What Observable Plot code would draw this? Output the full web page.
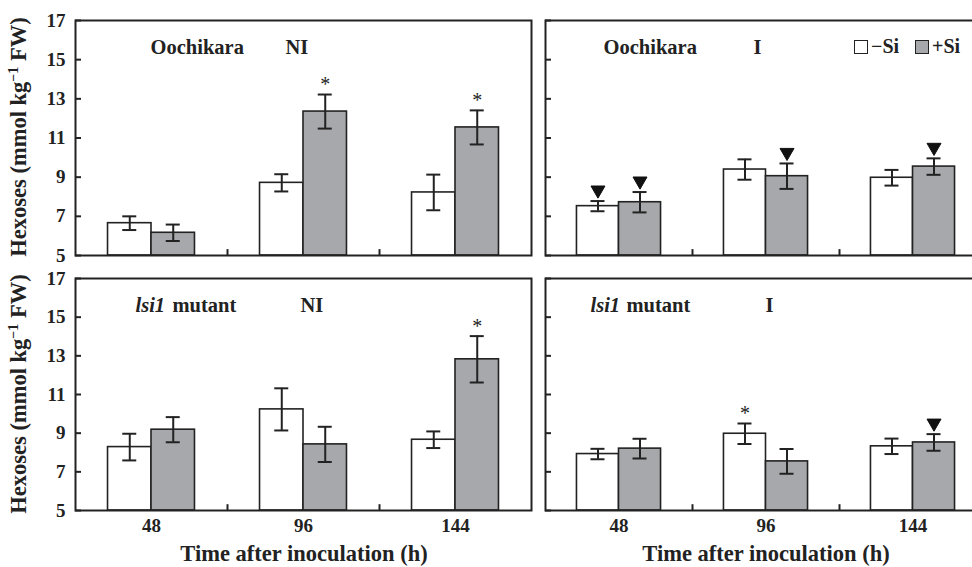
<!DOCTYPE html>
<html>
<head>
<meta charset="utf-8">
<script src="https://cdn.jsdelivr.net/npm/d3@7"></script>
<script src="https://cdn.jsdelivr.net/npm/@observablehq/plot@0.6"></script>
<style>
  body { margin: 0; background: #fff; overflow: hidden; }
  #fig { position: relative; width: 972px; height: 567px; overflow: hidden; font-family: "Liberation Serif", "Times New Roman", "DejaVu Serif", serif; font-weight: bold; color: #222; }
  .panel { position: absolute; }
  .panel svg { max-width: none !important; }
  .ylab { position: absolute; font-size: 22.5px; white-space: nowrap; transform: translate(-50%, -50%) rotate(-90deg); }
  .xlab { position: absolute; font-size: 22.5px; white-space: nowrap; transform: translate(-50%, -50%); }
  .legend { position: absolute; left: 854px; top: 35px; font-size: 20px; display: flex; align-items: center; white-space: nowrap; }
  .sw { display: inline-block; width: 12px; height: 12px; border: 1.6px solid #222; margin-right: 3px; }
  sup { font-size: 14px; }
</style>
</head>
<body>
<div id="fig"></div>
<script>
// ---- data ----
const times = ["48", "96", "144"];
const yTicks = [5, 7, 9, 11, 13, 15, 17];

const oochikaraNI_noSi = [6.65, 8.71, 8.22];
const oochikaraNI_noSi_se = [0.35, 0.44, 0.91];
const oochikaraNI_Si = [6.16, 12.35, 11.54];
const oochikaraNI_Si_se = [0.42, 0.87, 0.87];
const oochikaraNI_noSi_mark = ["", "", ""];
const oochikaraNI_Si_mark = ["", "*", "*"];

const oochikaraI_noSi = [7.52, 9.39, 8.97];
const oochikaraI_noSi_se = [0.26, 0.52, 0.40];
const oochikaraI_Si = [7.72, 9.05, 9.54];
const oochikaraI_Si_se = [0.52, 0.65, 0.42];
const oochikaraI_noSi_mark = ["▼", "", ""];
const oochikaraI_Si_mark = ["▼", "▼", "▼"];

const lsi1NI_noSi = [8.28, 10.23, 8.66];
const lsi1NI_noSi_se = [0.69, 1.09, 0.43];
const lsi1NI_Si = [9.18, 8.42, 12.82];
const lsi1NI_Si_se = [0.65, 0.91, 1.20];
const lsi1NI_noSi_mark = ["", "", ""];
const lsi1NI_Si_mark = ["", "", "*"];

const lsi1I_noSi = [7.92, 8.97, 8.32];
const lsi1I_noSi_se = [0.27, 0.53, 0.40];
const lsi1I_Si = [8.20, 7.54, 8.52];
const lsi1I_Si_se = [0.51, 0.64, 0.43];
const lsi1I_noSi_mark = ["", "*", ""];
const lsi1I_Si_mark = ["", "", "▼"];

const INK = "#222";
const GREY = "#a7a8ab";
const FONT = "'Liberation Serif', 'Times New Roman', 'DejaVu Serif', serif";

function makeRows(noSi, noSiSe, noSiMark, si, siSe, siMark) {
  return times.flatMap((t, i) => [
    {time: t, series: "-Si", mean: noSi[i], se: noSiSe[i], mark: noSiMark[i]},
    {time: t, series: "+Si", mean: si[i], se: siSe[i], mark: siMark[i]}
  ]);
}

function panel(cfg) {
  const {rows, width, height, marginLeft, marginRight, marginTop, marginBottom, yText, xText, labels} = cfg;
  const gw = (width - marginLeft - marginRight) / times.length;
  const barW = gw * 0.286;
  const outer = gw * 0.214;
  const capHalf = 7;
  const white = rows.filter(d => d.series === "-Si");
  const grey = rows.filter(d => d.series === "+Si");
  const cW = outer + barW / 2;
  const cG = gw - outer - barW / 2;
  const marks = [];
  marks.push(Plot.barY(white, {x: "time", y1: 5, y2: "mean", fill: "white", stroke: INK, strokeWidth: 1.6, insetLeft: outer, insetRight: gw / 2}));
  marks.push(Plot.barY(grey, {x: "time", y1: 5, y2: "mean", fill: GREY, stroke: INK, strokeWidth: 1.6, insetLeft: gw / 2, insetRight: outer}));
  for (const [set, c] of [[white, cW], [grey, cG]]) {
    marks.push(Plot.ruleX(set, {x: "time", y1: d => d.mean - d.se, y2: d => d.mean + d.se, dx: c - gw / 2, stroke: INK, strokeWidth: 2}));
    for (const f of [d => d.mean - d.se, d => d.mean + d.se]) {
      marks.push(Plot.tickY(set, {x: "time", y: f, insetLeft: c - capHalf, insetRight: gw - c - capHalf, stroke: INK, strokeWidth: 2}));
    }
    marks.push(Plot.text(set.filter(d => d.mark === "*"), {x: "time", y: d => d.mean + d.se, dx: c - gw / 2, dy: -10, text: () => "*", fontSize: 20, fontWeight: "normal", fill: INK}));
    marks.push(Plot.dot(set.filter(d => d.mark === "▼"), {x: "time", y: d => d.mean + d.se, dx: c - gw / 2, dy: -11, symbol: "triangle", rotate: 180, r: 5.2, fill: "#111", stroke: "#111", strokeWidth: 1}));
  }
  marks.push(Plot.ruleX(times.slice(1), {x: d => d, dx: -gw / 2, y1: 5, y2: 5.3, stroke: INK, strokeWidth: 2}));
  marks.push(Plot.axisY({ticks: yTicks, tickSize: 0, tickPadding: 10, text: yText ? undefined : null, label: null, fontSize: 19, fontWeight: "bold"}));
  marks.push(Plot.axisY({ticks: yTicks, tickSize: -6, text: null, label: null, strokeWidth: 2}));
  if (xText) marks.push(Plot.axisX({tickSize: 0, tickPadding: 8, label: null, fontSize: 19, fontWeight: "bold"}));
  marks.push(Plot.frame({stroke: INK, strokeWidth: 2}));
  for (const l of labels) {
    marks.push(Plot.text([l.text], {frameAnchor: "top-left", dx: l.dx, dy: 27, lineAnchor: "middle", text: d => d, textAnchor: "start", fontSize: 20.5, fontWeight: "bold", fontStyle: l.italic ? "italic" : "normal", fill: INK}));
  }
  return Plot.plot({
    width, height, marginLeft, marginRight, marginTop, marginBottom,
    x: {type: "band", domain: times, padding: 0, axis: null},
    y: {domain: [5, 17], axis: null},
    style: {fontFamily: FONT, fontWeight: "bold", fontSize: "18px", color: INK, background: "transparent", overflow: "visible", maxWidth: "none"},
    marks
  });
}

const fig = document.getElementById("fig");
function place(node, left, top, w) {
  const d = document.createElement("div");
  d.className = "panel";
  d.style.left = left + "px";
  d.style.top = top + "px";
  d.style.width = w + "px";
  d.appendChild(node);
  fig.appendChild(d);
}

place(panel({
  rows: makeRows(oochikaraNI_noSi, oochikaraNI_noSi_se, oochikaraNI_noSi_mark, oochikaraNI_Si, oochikaraNI_Si_se, oochikaraNI_Si_mark),
  width: 538, height: 262, marginLeft: 75, marginRight: 7, marginTop: 20, marginBottom: 7, yText: true, xText: false,
  labels: [{text: "Oochikara", dx: 75}, {text: "NI", dx: 210}]
}), 0, 0, 538);

place(panel({
  rows: makeRows(oochikaraI_noSi, oochikaraI_noSi_se, oochikaraI_noSi_mark, oochikaraI_Si, oochikaraI_Si_se, oochikaraI_Si_mark),
  width: 455, height: 262, marginLeft: 7, marginRight: 7, marginTop: 20, marginBottom: 7, yText: false, xText: false,
  labels: [{text: "Oochikara", dx: 58}, {text: "I", dx: 208}]
}), 538, 0, 455);

place(panel({
  rows: makeRows(lsi1NI_noSi, lsi1NI_noSi_se, lsi1NI_noSi_mark, lsi1NI_Si, lsi1NI_Si_se, lsi1NI_Si_mark),
  width: 538, height: 292, marginLeft: 75, marginRight: 7, marginTop: 20, marginBottom: 40, yText: true, xText: true,
  labels: [{text: "lsi1", dx: 60, italic: true}, {text: "mutant", dx: 97}, {text: "NI", dx: 225}]
}), 0, 258, 538);

place(panel({
  rows: makeRows(lsi1I_noSi, lsi1I_noSi_se, lsi1I_noSi_mark, lsi1I_Si, lsi1I_Si_se, lsi1I_Si_mark),
  width: 455, height: 292, marginLeft: 7, marginRight: 7, marginTop: 20, marginBottom: 40, yText: false, xText: true,
  labels: [{text: "lsi1", dx: 45, italic: true}, {text: "mutant", dx: 81}, {text: "I", dx: 220}]
}), 538, 258, 455);

function addText(cls, html, x, y) {
  const d = document.createElement("div");
  d.className = cls;
  d.innerHTML = html;
  d.style.left = x + "px";
  d.style.top = y + "px";
  fig.appendChild(d);
}
const yTitle = "Hexoses (mmol kg<sup>−1</sup> FW)";
addText("ylab", yTitle, 19, 137);
addText("ylab", yTitle, 19, 394);
addText("xlab", "Time after inoculation (h)", 304, 554);
addText("xlab", "Time after inoculation (h)", 766, 554);

const leg = document.createElement("div");
leg.className = "legend";
leg.innerHTML = '<span class="sw" style="background:#fff"></span><span>−Si</span><span style="width:16px"></span><span class="sw" style="background:' + GREY + '"></span><span>+Si</span>';
fig.appendChild(leg);
</script>
</body>
</html>
